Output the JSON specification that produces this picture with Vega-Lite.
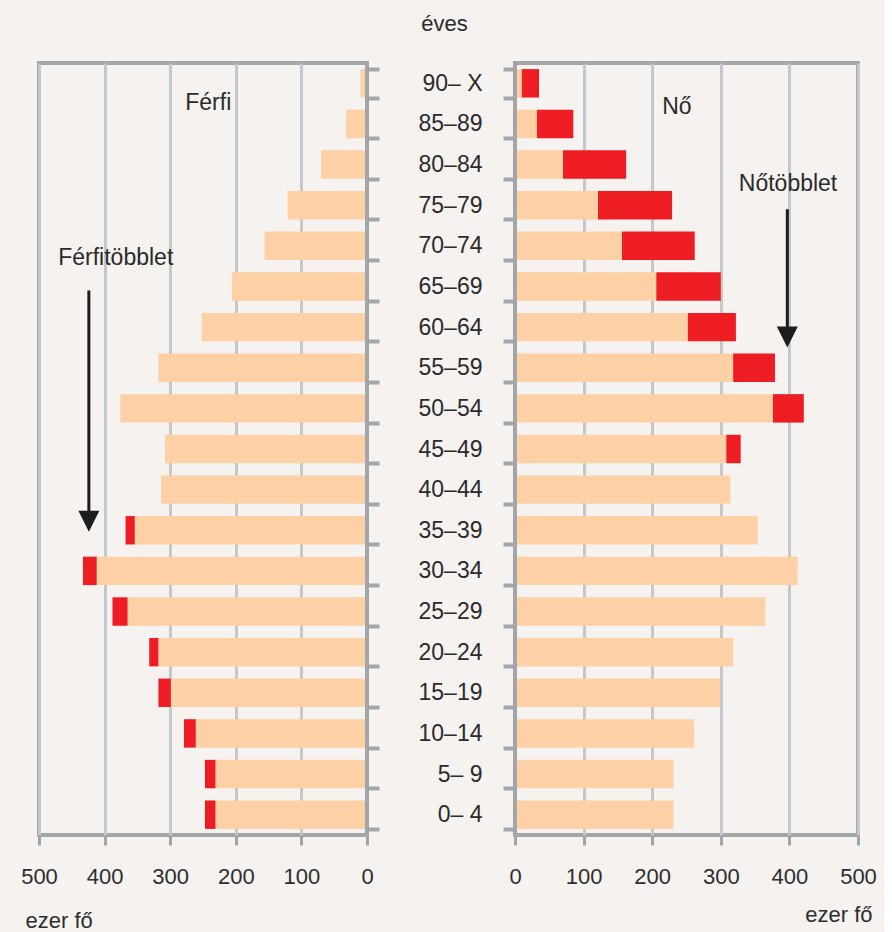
{
  "$schema": "https://vega.github.io/schema/vega-lite/v6.json",
  "background": "#f5f2ef",
  "padding": {"left": 18, "top": 10, "right": 5, "bottom": 0},
  "config": {
    "font": "Liberation Sans",
    "view": {"stroke": "#a3a6a9", "strokeWidth": 4},
    "axis": {"labelFont": "Liberation Sans", "titleFont": "Liberation Sans"}
  },
  "datasets": {
    "pop": [
      {"kor": "90– X", "ferfi": 10, "no": 35, "kozos": 10},
      {"kor": "85–89", "ferfi": 32, "no": 85, "kozos": 32},
      {"kor": "80–84", "ferfi": 70, "no": 162, "kozos": 70},
      {"kor": "75–79", "ferfi": 121, "no": 229, "kozos": 121},
      {"kor": "70–74", "ferfi": 156, "no": 262, "kozos": 156},
      {"kor": "65–69", "ferfi": 206, "no": 300, "kozos": 206},
      {"kor": "60–64", "ferfi": 252, "no": 322, "kozos": 252},
      {"kor": "55–59", "ferfi": 318, "no": 379, "kozos": 318},
      {"kor": "50–54", "ferfi": 376, "no": 421, "kozos": 376},
      {"kor": "45–49", "ferfi": 308, "no": 329, "kozos": 308},
      {"kor": "40–44", "ferfi": 314, "no": 314, "kozos": 314},
      {"kor": "35–39", "ferfi": 368, "no": 354, "kozos": 354},
      {"kor": "30–34", "ferfi": 433, "no": 412, "kozos": 412},
      {"kor": "25–29", "ferfi": 388, "no": 365, "kozos": 365},
      {"kor": "20–24", "ferfi": 332, "no": 318, "kozos": 318},
      {"kor": "15–19", "ferfi": 318, "no": 299, "kozos": 299},
      {"kor": "10–14", "ferfi": 279, "no": 261, "kozos": 261},
      {"kor": "5– 9", "ferfi": 247, "no": 231, "kozos": 231},
      {"kor": "0– 4", "ferfi": 247, "no": 231, "kozos": 231}
    ],
    "nullpont": [{"ertek": 0}],
    "ferficimke": [{"kor": "85–89", "ertek": 242, "szoveg": "Férfi"}],
    "ferfitobblet": [{"kor": "70–74", "ertek": 383, "szoveg": "Férfitöbblet"}],
    "nocimke": [{"kor": "85–89", "ertek": 236, "szoveg": "Nő"}],
    "notobblet": [{"kor": "75–79", "ertek": 398, "szoveg": "Nőtöbblet"}],
    "balnyil": [{"kor": "65–69", "veg": "35–39", "ertek": 424}],
    "jobbnyil": [{"kor": "75–79", "veg": "60–64", "ertek": 397}]
  },
  "bounds": "flush",
  "spacing": 148,
  "hconcat": [
    {
      "width": 328,
      "height": 772,
      "layer": [
        {
          "data": {"name": "pop"},
          "mark": {"type": "bar", "color": "#fdd0a6"},
          "encoding": {
            "y": {
              "field": "kor", "type": "nominal",
              "scale": {"domain": ["90– X","85–89","80–84","75–79","70–74","65–69","60–64","55–59","50–54","45–49","40–44","35–39","30–34","25–29","20–24","15–19","10–14","5– 9","0– 4"], "paddingInner": 0.3, "paddingOuter": 0.15},
              "axis": {"orient": "right", "labels": false, "title": null, "domain": false, "grid": false, "tickBand": "extent", "tickExtra": true, "tickSize": 12, "tickWidth": 4, "tickColor": "#a3a6a9"}
            },
            "x": {
              "field": "kozos", "type": "quantitative", "title": "ezer fő",
              "scale": {"domain": [0, 500], "reverse": true},
              "axis": {"values": [0,100,200,300,400,500], "grid": true, "gridColor": "#c6c7c9", "gridWidth": 3, "domain": false, "tickColor": "#a3a6a9", "tickWidth": 3, "tickSize": 10, "labelFontSize": 22, "labelColor": "#2e2e2e", "labelPadding": 38, "labelBaseline": "alphabetic", "labelFlush": false, "labelOverlap": false, "titleFontSize": 22, "titleFontWeight": "normal", "titleColor": "#2e2e2e", "titleAnchor": "start", "titleAlign": "left", "titleBaseline": "alphabetic", "titleX": -14, "titleY": 92}
            }
          }
        },
        {
          "data": {"name": "pop"},
          "mark": {"type": "bar", "color": "#ee1d24"},
          "encoding": {
            "y": {"field": "kor", "type": "nominal"},
            "x": {"field": "kozos", "type": "quantitative", "title": "ezer fő"},
            "x2": {"field": "ferfi"}
          }
        },
        {
          "data": {"name": "nullpont"},
          "mark": {"type": "rule", "color": "#a3a6a9", "strokeWidth": 4},
          "encoding": {"x": {"field": "ertek", "type": "quantitative", "title": "ezer fő"}}
        },
        {
          "data": {"name": "ferficimke"},
          "mark": {"type": "text", "fontSize": 23, "color": "#2b2b2b", "baseline": "middle", "dy": -21},
          "encoding": {
            "y": {"field": "kor", "type": "nominal"},
            "x": {"field": "ertek", "type": "quantitative", "title": "ezer fő"},
            "text": {"field": "szoveg"}
          }
        },
        {
          "data": {"name": "ferfitobblet"},
          "mark": {"type": "text", "fontSize": 23, "color": "#2b2b2b", "baseline": "middle", "dy": 12},
          "encoding": {
            "y": {"field": "kor", "type": "nominal"},
            "x": {"field": "ertek", "type": "quantitative", "title": "ezer fő"},
            "text": {"field": "szoveg"}
          }
        },
        {
          "data": {"name": "balnyil"},
          "mark": {"type": "rule", "color": "#1f1c1d", "strokeWidth": 3, "yOffset": 4, "y2Offset": -14},
          "encoding": {
            "y": {"field": "kor", "type": "nominal"},
            "y2": {"field": "veg"},
            "x": {"field": "ertek", "type": "quantitative", "title": "ezer fő"}
          }
        },
        {
          "data": {"name": "balnyil"},
          "mark": {"type": "point", "shape": "M-1,-1L1,-1L0,1Z", "size": 441, "filled": true, "opacity": 1, "color": "#1f1c1d", "yOffset": -9},
          "encoding": {
            "y": {"field": "veg", "type": "nominal"},
            "x": {"field": "ertek", "type": "quantitative", "title": "ezer fő"}
          }
        }
      ]
    },
    {
      "width": 343,
      "height": 772,
      "layer": [
        {
          "data": {"name": "pop"},
          "mark": {"type": "bar", "color": "#fdd0a6"},
          "encoding": {
            "y": {
              "field": "kor", "type": "nominal",
              "scale": {"domain": ["90– X","85–89","80–84","75–79","70–74","65–69","60–64","55–59","50–54","45–49","40–44","35–39","30–34","25–29","20–24","15–19","10–14","5– 9","0– 4"], "paddingInner": 0.3, "paddingOuter": 0.15},
              "title": "éves",
              "axis": {"orient": "left", "domain": false, "grid": false, "tickBand": "extent", "tickExtra": true, "tickSize": 12, "tickWidth": 4, "tickColor": "#a3a6a9", "labelFontSize": 23, "labelColor": "#2b2b2b", "labelAlign": "right", "labelBaseline": "middle", "labelPadding": 21, "titleFontSize": 22, "titleFontWeight": "normal", "titleColor": "#2b2b2b", "titleAngle": 0, "titleAlign": "center", "titleBaseline": "alphabetic", "titleX": -71, "titleY": -33}
            },
            "x": {
              "field": "kozos", "type": "quantitative", "title": "ezer fő",
              "scale": {"domain": [0, 500]},
              "axis": {"values": [0,100,200,300,400,500], "grid": true, "gridColor": "#c6c7c9", "gridWidth": 3, "domain": false, "tickColor": "#a3a6a9", "tickWidth": 3, "tickSize": 10, "labelFontSize": 22, "labelColor": "#2e2e2e", "labelPadding": 38, "labelBaseline": "alphabetic", "labelFlush": false, "labelOverlap": false, "titleFontSize": 22, "titleFontWeight": "normal", "titleColor": "#2e2e2e", "titleAnchor": "end", "titleAlign": "right", "titleBaseline": "alphabetic", "titleX": 357, "titleY": 86}
            }
          }
        },
        {
          "data": {"name": "pop"},
          "mark": {"type": "bar", "color": "#ee1d24"},
          "encoding": {
            "y": {"field": "kor", "type": "nominal", "title": "éves"},
            "x": {"field": "kozos", "type": "quantitative", "title": "ezer fő"},
            "x2": {"field": "no"}
          }
        },
        {
          "data": {"name": "nullpont"},
          "mark": {"type": "rule", "color": "#a3a6a9", "strokeWidth": 4},
          "encoding": {"x": {"field": "ertek", "type": "quantitative", "title": "ezer fő"}}
        },
        {
          "data": {"name": "nocimke"},
          "mark": {"type": "text", "fontSize": 23, "color": "#2b2b2b", "baseline": "middle", "dy": -17},
          "encoding": {
            "y": {"field": "kor", "type": "nominal", "title": "éves"},
            "x": {"field": "ertek", "type": "quantitative", "title": "ezer fő"},
            "text": {"field": "szoveg"}
          }
        },
        {
          "data": {"name": "notobblet"},
          "mark": {"type": "text", "fontSize": 23, "color": "#2b2b2b", "baseline": "middle", "dy": -21},
          "encoding": {
            "y": {"field": "kor", "type": "nominal", "title": "éves"},
            "x": {"field": "ertek", "type": "quantitative", "title": "ezer fő"},
            "text": {"field": "szoveg"}
          }
        },
        {
          "data": {"name": "jobbnyil"},
          "mark": {"type": "rule", "color": "#1f1c1d", "strokeWidth": 3, "yOffset": 4, "y2Offset": 2},
          "encoding": {
            "y": {"field": "kor", "type": "nominal", "title": "éves"},
            "y2": {"field": "veg"},
            "x": {"field": "ertek", "type": "quantitative", "title": "ezer fő"}
          }
        },
        {
          "data": {"name": "jobbnyil"},
          "mark": {"type": "point", "shape": "M-1,-1L1,-1L0,1Z", "size": 441, "filled": true, "opacity": 1, "color": "#1f1c1d", "yOffset": 10},
          "encoding": {
            "y": {"field": "veg", "type": "nominal", "title": "éves"},
            "x": {"field": "ertek", "type": "quantitative", "title": "ezer fő"}
          }
        }
      ]
    }
  ]
}
